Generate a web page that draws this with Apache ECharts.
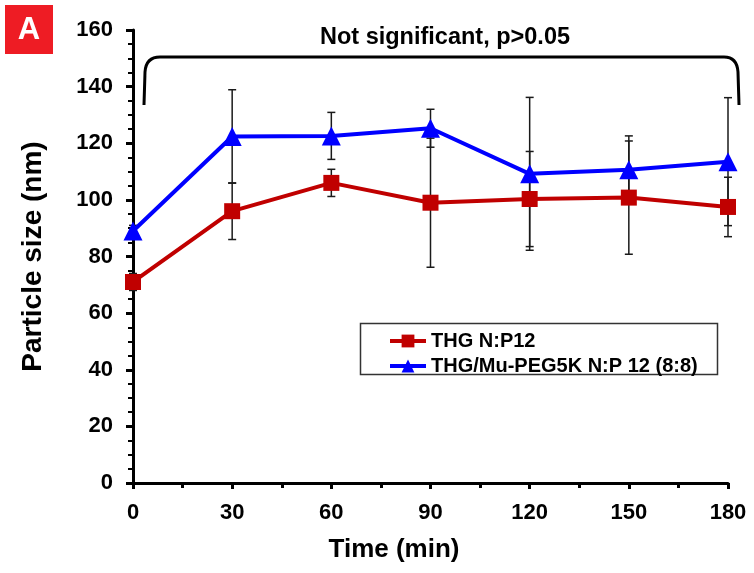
<!DOCTYPE html>
<html>
<head>
<meta charset="utf-8">
<script src="https://cdn.jsdelivr.net/npm/echarts@6/dist/echarts.min.js"></script>
<style>
html,body{margin:0;padding:0;background:#fff;}
#chart{width:754px;height:573px;}
</style>
</head>
<body>
<div id="chart"></div>
<script>
var times = [0, 30, 60, 90, 120, 150, 180];
var redName = 'THG N:P12';
var redMean = [71, 96, 106, 99, 100.3, 100.8, 97.5];
var redErr = [3, 10, 4.8, 22.8, 16.8, 20, 10.5];
var blueName = 'THG/Mu-PEG5K N:P 12 (8:8)';
var blueMean = [89, 122.4, 122.6, 125.3, 109.2, 110.6, 113.5];
var blueErr = [2, 16.5, 8.3, 6.7, 27, 12, 22.6];
var yTicks = [0, 20, 40, 60, 80, 100, 120, 140, 160];
var xTicks = [0, 30, 60, 90, 120, 150, 180];

var FONT = 'Liberation Sans, Arial, sans-serif';

function pairs(xs, ys) { return xs.map(function (x, i) { return [x, ys[i]]; }); }
function errData(xs, m, e) { return xs.map(function (x, i) { return [x, m[i] - e[i], m[i] + e[i]]; }); }

function errRender(params, api) {
  var x = api.value(0);
  var lo = api.coord([x, api.value(1)]);
  var hi = api.coord([x, api.value(2)]);
  var w = 4;
  var st = { stroke: '#1a1a1a', lineWidth: 1.5 };
  return {
    type: 'group',
    children: [
      { type: 'line', shape: { x1: lo[0], y1: lo[1], x2: hi[0], y2: hi[1] }, style: st },
      { type: 'line', shape: { x1: lo[0] - w, y1: lo[1], x2: lo[0] + w, y2: lo[1] }, style: st },
      { type: 'line', shape: { x1: hi[0] - w, y1: hi[1], x2: hi[0] + w, y2: hi[1] }, style: st }
    ]
  };
}

var bst = { fill: 'none', stroke: '#000', lineWidth: 3 };
var chart = echarts.init(document.getElementById('chart'));
var option = {
  animation: false,
  backgroundColor: '#fff',
  grid: { left: 133, right: 26, top: 30, bottom: 90, containLabel: false },
  xAxis: {
    type: 'value', min: 0, max: 180, interval: 30,
    axisLine: { show: true, lineStyle: { color: '#000', width: 3 } },
    axisTick: { show: true, length: 6, lineStyle: { color: '#000', width: 3 } },
    minorTick: { show: true, splitNumber: 2, length: 5, lineStyle: { color: '#000', width: 3 } },
    splitLine: { show: false },
    axisLabel: { margin: 19, fontFamily: FONT, fontWeight: 'bold', fontSize: 22, color: '#000',
      formatter: function (v) { return xTicks.indexOf(v) >= 0 ? String(v) : ''; } }
  },
  yAxis: {
    type: 'value', min: 0, max: 160, interval: 20,
    name: 'Particle size (nm)', nameLocation: 'middle', nameGap: 86,
    nameTextStyle: { fontFamily: FONT, fontWeight: 'bold', fontSize: 28, color: '#000' },
    axisLine: { show: true, lineStyle: { color: '#000', width: 3 } },
    axisTick: { show: true, length: 7, lineStyle: { color: '#000', width: 3 } },
    minorTick: { show: true, splitNumber: 4, length: 5, lineStyle: { color: '#000', width: 2 } },
    splitLine: { show: false },
    axisLabel: { margin: 20, fontFamily: FONT, fontWeight: 'bold', fontSize: 22, color: '#000',
      formatter: function (v) { return yTicks.indexOf(v) >= 0 ? String(v) : ''; } }
  },
  legend: {
    left: 383, top: 326, orient: 'vertical', itemGap: 5,
    itemWidth: 36, itemHeight: 16,
    lineStyle: { width: 4 },
    textStyle: { fontFamily: FONT, fontWeight: 'bold', fontSize: 20, color: '#000' },
    data: [redName, blueName]
  },
  graphic: [
    { type: 'rect', shape: { x: 5, y: 5, width: 48, height: 49 }, style: { fill: '#ee1c24' } },
    { type: 'text', x: 29, y: 30, style: { text: 'A', fill: '#fff', font: 'bold 31px ' + FONT, textAlign: 'center', textVerticalAlign: 'middle' } },
    { type: 'text', x: 445, y: 38, style: { text: 'Not significant, p>0.05', fill: '#000', font: 'bold 23.5px ' + FONT, textAlign: 'center', textVerticalAlign: 'middle' } },
    { type: 'text', x: 394, y: 550, style: { text: 'Time (min)', fill: '#000', font: 'bold 26px ' + FONT, textAlign: 'center', textVerticalAlign: 'middle' } },
    { type: 'line', shape: { x1: 144, y1: 105, x2: 145, y2: 72 }, style: bst },
    { type: 'bezierCurve', shape: { x1: 145, y1: 72, cpx1: 146, cpy1: 57, x2: 160, y2: 57 }, style: bst },
    { type: 'line', shape: { x1: 160, y1: 57, x2: 724, y2: 57 }, style: bst },
    { type: 'bezierCurve', shape: { x1: 724, y1: 57, cpx1: 737, cpy1: 57, x2: 738, y2: 72 }, style: bst },
    { type: 'line', shape: { x1: 738, y1: 72, x2: 739, y2: 105 }, style: bst },
    { type: 'rect', shape: { x: 360.5, y: 323.5, width: 357, height: 51 }, style: { fill: 'rgba(0,0,0,0)', stroke: '#333', lineWidth: 1.5 }, z: 0 }
  ],
  series: [
    { type: 'custom', name: 'errRed', renderItem: errRender, data: errData(times, redMean, redErr), z: 1, silent: true },
    { type: 'custom', name: 'errBlue', renderItem: errRender, data: errData(times, blueMean, blueErr), z: 1, silent: true },
    { type: 'line', name: redName, data: pairs(times, redMean), color: '#c00000',
      symbol: 'rect', symbolSize: 16, lineStyle: { width: 4, color: '#c00000' },
      itemStyle: { color: '#c00000' }, z: 3 },
    { type: 'line', name: blueName, data: pairs(times, blueMean), color: '#0000ff',
      symbol: 'triangle', symbolSize: 19, lineStyle: { width: 4, color: '#0000ff' },
      itemStyle: { color: '#0000ff' }, z: 4 }
  ]
};
chart.setOption(option);
</script>
</body>
</html>
